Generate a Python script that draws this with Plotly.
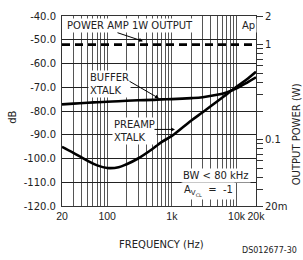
import math
import plotly.graph_objects as go

# ---- data ----
freq_hz = [20, 30, 50, 70, 100, 150, 200, 300, 500, 700, 1000, 2000, 3000, 5000, 7000, 10000, 15000, 20000]
buffer_xtalk_db = [-77.2, -76.9, -76.5, -76.3, -76.1, -75.9, -75.7, -75.5, -75.3, -75.1, -75.0, -74.6, -74.2, -73.2, -72.2, -70.5, -67.8, -65.8]
preamp_xtalk_db = [-95.1, -97.6, -101.0, -102.9, -104.0, -103.7, -102.4, -100.0, -96.0, -93.0, -90.5, -84.0, -80.5, -76.0, -73.0, -69.8, -66.3, -63.5]
power_amp_w = [1.0, 1.0, 1.0, 1.0, 1.0, 1.0, 1.0, 1.0, 1.0, 1.0, 1.0, 1.0, 1.0, 1.0, 1.0, 1.0, 1.0, 1.0]

db_ticks = [-40, -50, -60, -70, -80, -90, -100, -110, -120]
db_labels = ["-40.0", "-50.0", "-60.0", "-70.0", "-80.0", "-90.0", "-100.0", "-110.0", "-120.0"]

f_grid = [20, 30, 40, 50, 60, 70, 80, 90, 100, 200, 300, 400, 500, 600, 700, 800, 900,
          1000, 2000, 3000, 4000, 5000, 6000, 7000, 8000, 9000, 10000, 20000]
f_labels = {20: "20", 100: "100", 1000: "1k", 10000: "10k", 20000: "20k"}

w_ticks = [0.02, 0.03, 0.04, 0.05, 0.06, 0.07, 0.08, 0.09, 0.1, 0.2, 0.3, 0.4, 0.5,
           0.6, 0.7, 0.8, 0.9, 1, 2]
w_labels = {0.02: "20m", 0.1: "0.1", 1: "1", 2: "2"}

FONT = "DejaVu Sans"
FONT_X = "Liberation Sans"
TXT = "#222"

W, H = 303, 260
L, R, T, B = 62, 256, 10, 206


def xp(px):
    return (px - L) / (R - L)


def yp(py):
    return (B - py) / (B - T)


fig = go.Figure()
fig.add_trace(go.Scatter(x=freq_hz, y=buffer_xtalk_db, mode="lines",
                         line=dict(color="black", width=2.6, shape="spline"),
                         showlegend=False, hoverinfo="skip"))
fig.add_trace(go.Scatter(x=freq_hz, y=preamp_xtalk_db, mode="lines",
                         line=dict(color="black", width=2.6, shape="spline"),
                         showlegend=False, hoverinfo="skip"))
fig.add_trace(go.Scatter(x=freq_hz, y=power_amp_w, mode="lines", yaxis="y2",
                         line=dict(color="black", width=2.6, dash="8px,5px"),
                         showlegend=False, hoverinfo="skip"))

annos = []


def text(s, px, py, xanchor="left", yanchor="middle", align="left", size=10):
    annos.append(dict(text=s, x=xp(px), y=yp(py), xref="paper", yref="paper",
                      xanchor=xanchor, yanchor=yanchor, align=align, showarrow=False,
                      bgcolor="white", borderpad=1,
                      font=dict(family=FONT, size=size, color=TXT)))


def arrow(head_px, head_py, tail_px, tail_py):
    annos.append(dict(text="", x=xp(head_px), y=yp(head_py), xref="paper", yref="paper",
                      ax=tail_px - head_px, ay=tail_py - head_py,
                      showarrow=True, arrowhead=2, arrowsize=0.8, arrowwidth=1,
                      arrowcolor="black"))


text("POWER AMP 1W OUTPUT", 130, 20, xanchor="center")
text("Ap", 248, 20, xanchor="center")
text("BUFFER<br>XTALK", 88, 80.5)
text("PREAMP<br>XTALK", 112, 128.5)
text("BW &lt; 80 kHz", 181, 175)
text("A<sub>V<sub>CL</sub></sub>  =  -1", 182, 191)

arrow(143, 36, 116, 27)
arrow(159, 95, 128, 77)
arrow(175, 127, 153, 127)

# axis titles and footnote
annos.append(dict(text="dB", x=xp(13), y=yp(115), xref="paper", yref="paper",
                  textangle=-90, showarrow=False, xanchor="center", yanchor="middle",
                  font=dict(family=FONT, size=10, color=TXT)))
annos.append(dict(text="OUTPUT POWER (W)", x=xp(296), y=yp(132), xref="paper", yref="paper",
                  textangle=-90, showarrow=False, xanchor="center", yanchor="middle",
                  font=dict(family=FONT, size=10, color=TXT)))
annos.append(dict(text="FREQUENCY (Hz)", x=xp(161), y=yp(246), xref="paper", yref="paper",
                  showarrow=False, xanchor="center", yanchor="middle",
                  font=dict(family=FONT, size=10, color=TXT)))
annos.append(dict(text="DS012677-30", x=xp(240), y=yp(259), xref="paper", yref="paper",
                  showarrow=False, xanchor="left", yanchor="bottom",
                  font=dict(family=FONT, size=8, color=TXT)))

fig.update_layout(
    width=W, height=H,
    margin=dict(l=L, r=W - R, t=T, b=H - B, pad=0),
    paper_bgcolor="white", plot_bgcolor="white",
    font=dict(family=FONT, size=10, color=TXT),
    hovermode=False,
    xaxis=dict(type="log", range=[math.log10(20), math.log10(20000)],
               tickvals=f_grid, ticktext=[f_labels.get(v, "") for v in f_grid],
               tickangle=0,
               showgrid=True, gridcolor="#555", gridwidth=1,
               ticks="", showline=True, linecolor="#333", linewidth=1, mirror=True,
               zeroline=False, tickfont=dict(family=FONT_X, size=10.5, color=TXT)),
    yaxis=dict(range=[-120, -40], tickvals=db_ticks, ticktext=db_labels,
               showgrid=True, gridcolor="#222", gridwidth=1,
               ticks="", showline=True, linecolor="#333", linewidth=1, mirror=True,
               zeroline=False, ticklabelstandoff=3,
               tickfont=dict(family=FONT, size=10, color=TXT)),
    yaxis2=dict(type="log", range=[math.log10(0.02), math.log10(2)], overlaying="y",
                side="right", tickvals=w_ticks,
                ticktext=[w_labels.get(v, "") for v in w_ticks],
                showgrid=False, ticks="outside", ticklen=6, tickcolor="#333",
                showline=True, linecolor="#333", linewidth=1, zeroline=False,
                tickfont=dict(family=FONT, size=10, color=TXT)),
    annotations=annos,
)

fig.write_html("out.html", config={"displayModeBar": False},
               post_script="document.body.style.margin='0';document.body.style.overflow='hidden';")
